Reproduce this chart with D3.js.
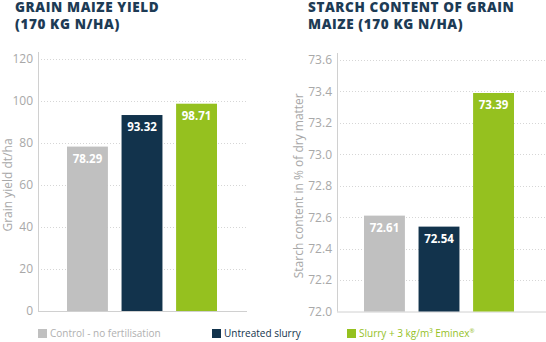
<!DOCTYPE html>
<html><head><meta charset="utf-8">
<script src="https://cdn.jsdelivr.net/npm/d3@7"></script>
<style>body{margin:0;background:#fff}svg{display:block}</style>
</head><body><svg id="c" width="546" height="342"></svg>
<script>
const categories = ["Control - no fertilisation", "Untreated slurry", "Slurry + 3 kg/m³ Eminex"];
const colors = ["#c0c0c0", "#12334c", "#95c11f"];
const yieldValues = [78.29, 93.32, 98.71];
const starchValues = [72.61, 72.54, 73.39];
const yieldTicks = [0, 20, 40, 60, 80, 100, 120];
const starchTicks = [72.0, 72.2, 72.4, 72.6, 72.8, 73.0, 73.2, 73.4, 73.6];

const svg = d3.select("#c");
const titleColor = "#1d3b55";
const font = "'Open Sans', Lato, sans-serif";

function panel(cfg) {
  const g = svg.append("g");
  const y = d3.scaleLinear().domain(cfg.domain).range([cfg.bottom, cfg.top]);
  const x = d3.scaleBand().domain(categories).range([cfg.x0, cfg.x1]).paddingInner(0.25).paddingOuter(0);
  g.selectAll(".grid").data(cfg.ticks.slice(1)).enter().append("line")
    .attr("x1", cfg.axisX).attr("x2", cfg.gridEnd)
    .attr("y1", d => Math.round(y(d)) + 0.5).attr("y2", d => Math.round(y(d)) + 0.5)
    .attr("stroke", "#d6d6d6").attr("stroke-dasharray", "1,2");
  const ax = g.append("g").attr("transform", `translate(${cfg.axisX},0)`)
    .call(d3.axisLeft(y).tickValues(cfg.ticks).tickSize(0).tickPadding(5).tickFormat(cfg.fmt));
  ax.select(".domain").attr("stroke", "#d0d0d0").attr("d", `M0.5,${cfg.top - 7}V${cfg.bottom}`);
  ax.selectAll("text").attr("fill", "#a8a8a8").attr("font-size", 12).attr("font-family", font);
  g.append("line").attr("x1", cfg.axisX).attr("x2", cfg.gridEnd)
    .attr("y1", cfg.bottom + 0.5).attr("y2", cfg.bottom + 0.5).attr("stroke", "#d0d0d0");
  g.selectAll(".bar").data(cfg.values).enter().append("rect")
    .attr("x", (d, i) => x(categories[i])).attr("width", x.bandwidth())
    .attr("y", d => y(d)).attr("height", d => cfg.bottom - y(d))
    .attr("fill", (d, i) => colors[i]);
  g.selectAll(".lbl").data(cfg.values).enter().append("text")
    .attr("x", (d, i) => x(categories[i]) + x.bandwidth() / 2)
    .attr("y", d => y(d) + 16)
    .attr("text-anchor", "middle").attr("fill", "#fff")
    .attr("font-size", 11.5).attr("font-weight", 700).attr("font-family", font)
    .text(d => d.toFixed(2));
  g.append("text").attr("transform", `translate(${cfg.titleX},${(cfg.top + cfg.bottom) / 2}) rotate(-90)`)
    .attr("text-anchor", "middle").attr("fill", "#a8a8a8").attr("font-size", 12).attr("font-family", font)
    .text(cfg.ytitle);
  const t = g.append("text").attr("fill", titleColor).attr("font-size", 13.5).attr("font-weight", 800)
    .attr("letter-spacing", 0.6).attr("font-family", font);
  cfg.title.forEach((line, i) => t.append("tspan").attr("x", cfg.titleLeft).attr("y", 12 + i * 16.5).text(line));
}

panel({domain: [0, 120], ticks: yieldTicks, top: 59, bottom: 311, axisX: 38, gridEnd: 247,
  x0: 67, x1: 217, values: yieldValues, fmt: d3.format("d"), titleX: 12, ytitle: "Grain yield dt/ha",
  title: ["GRAIN MAIZE YIELD", "(170 KG N/HA)"], titleLeft: 15});
panel({domain: [72.0, 73.6], ticks: starchTicks, top: 60, bottom: 311.5, axisX: 337, gridEnd: 546,
  x0: 364, x1: 514, values: starchValues, fmt: d3.format(".1f"), titleX: 303, ytitle: "Starch content in % of dry matter",
  title: ["STARCH CONTENT OF GRAIN", "MAIZE (170 KG N/HA)"], titleLeft: 308});

const legX = [38, 212, 347];
const legTextColor = ["#b0b0b0", "#12334c", "#95c11f"];
const leg = svg.append("g");
categories.forEach((c, i) => {
  leg.append("rect").attr("x", legX[i]).attr("y", 329).attr("width", 9).attr("height", 9).attr("fill", colors[i]);
  const tx = leg.append("text").attr("x", legX[i] + 12).attr("y", 337).attr("fill", legTextColor[i])
    .attr("font-size", 10).attr("font-family", font).text(c);
  if (i === 2) tx.append("tspan").attr("font-size", 6).attr("dy", -4).text("®");
});
</script></body></html>
